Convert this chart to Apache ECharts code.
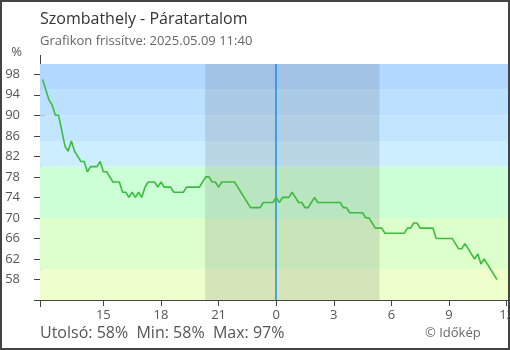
<!DOCTYPE html>
<html>
<head>
<meta charset="utf-8">
<script src="https://cdn.jsdelivr.net/npm/echarts@6/dist/echarts.min.js"></script>
<style>
  html, body { margin: 0; padding: 0; background: #fff; }
  #chart { width: 510px; height: 350px; }
</style>
</head>
<body>
<div id="chart"></div>
<script>
// Relative humidity in Szombathely, 10-minute readings
// from 2025-05-08 11:50 to 2025-05-09 11:30 (hours counted from 2025-05-08 00:00)
const startHour = 11 + 50 / 60;
const stepHours = 10 / 60;
const humidity = [
  97, 95, 93, 92, 90, 90, 87, 84, 83, 85,
  83, 82, 81, 81, 79, 80, 80, 80, 81, 79,
  79, 78, 77, 77, 77, 75, 75, 74, 75, 74,
  75, 74, 76, 77, 77, 77, 76, 77, 76, 76,
  76, 75, 75, 75, 75, 76, 76, 76, 76, 76,
  77, 78, 78, 77, 77, 76, 77, 77, 77, 77,
  77, 76, 75, 74, 73, 72, 72, 72, 72, 73,
  73, 73, 73, 74, 73, 74, 74, 74, 75, 74,
  73, 73, 72, 72, 73, 74, 73, 73, 73, 73,
  73, 73, 73, 73, 72, 72, 71, 71, 71, 71,
  71, 70, 70, 69, 68, 68, 68, 67, 67, 67,
  67, 67, 67, 67, 68, 68, 69, 69, 68, 68,
  68, 68, 68, 66, 66, 66, 66, 66, 66, 65,
  64, 64, 65, 64, 63, 62, 63, 61, 62, 61,
  60, 59, 58
];

// Axis ranges and ticks
const xRange = [11.7, 36.075];
const hourTicks = [15, 18, 21, 24, 27, 30, 33, 36];
const yRange = [54, 100];
const valueTicks = [58, 62, 66, 70, 74, 78, 82, 86, 90, 94, 98];

// Humidity band limits, night (sunset 20:18, sunrise 05:23) and midnight
const bandEdges = [54, 60, 70, 80, 85, 90, 95, 100];
const nightSpan = [20 + 18 / 60, 24 + 5 + 23 / 60];
const midnight = 24;

const bandColors = ['#eeffcc', '#ddffcc', '#ccffd6', '#cceeff', '#c2e6ff', '#bce0ff', '#b2d8ff'];
const FONT = 'Open Sans';
const AXIS_COLOR = '#444';
const TEXT_COLOR = '#555';

const points = humidity.map((v, i) => [startHour + i * stepHours, v]);
const lastVal = humidity[humidity.length - 1];
const minVal = Math.min(...humidity);
const maxVal = Math.max(...humidity);

const chart = echarts.init(document.getElementById('chart'), null, { renderer: 'canvas' });

function xAxisDef(inner) {
  return {
    type: 'value', position: 'bottom',
    min: xRange[0], max: xRange[1],
    axisLine: { show: !inner, lineStyle: { color: AXIS_COLOR, width: 1 } },
    axisTick: { show: true, inside: inner, length: 6, customValues: hourTicks, lineStyle: { color: AXIS_COLOR, width: 1 } },
    axisLabel: inner ? { show: false } : {
      customValues: hourTicks, margin: 9, color: TEXT_COLOR, fontSize: 13, fontFamily: FONT,
      formatter: v => String(Math.round(v) % 24)
    },
    splitLine: { show: false }
  };
}
function yAxisDef(inner) {
  return {
    type: 'value', position: 'left',
    min: yRange[0], max: yRange[1],
    name: inner ? '' : '%', nameLocation: 'end', nameGap: 5,
    nameTextStyle: { color: TEXT_COLOR, fontSize: 13, fontFamily: FONT, align: 'right', padding: [0, 18, 0, 0] },
    axisLine: { show: !inner, lineStyle: { color: AXIS_COLOR, width: 1 } },
    axisTick: { show: true, inside: inner, length: 6, customValues: valueTicks, lineStyle: { color: AXIS_COLOR, width: 1 } },
    axisLabel: inner ? { show: false } : {
      customValues: valueTicks, margin: 20, color: TEXT_COLOR, fontSize: 13, fontFamily: FONT
    },
    splitLine: { show: false }
  };
}

const bandAreas = [];
for (let k = 0; k < bandEdges.length - 1; k++) {
  bandAreas.push([{ yAxis: bandEdges[k], itemStyle: { color: bandColors[k] } }, { yAxis: bandEdges[k + 1] }]);
}

chart.setOption({
  animation: false,
  backgroundColor: '#fff',
  title: {
    left: 40, top: 11, padding: 0, itemGap: 8,
    text: 'Szombathely - Páratartalom',
    subtext: 'Grafikon frissítve: 2025.05.09 11:40',
    textStyle: { fontFamily: FONT, fontSize: 16, fontWeight: 'normal', color: '#333' },
    subtextStyle: { fontFamily: FONT, fontSize: 13, color: '#666' }
  },
  grid: { left: 40, top: 64, right: 2, bottom: 50, containLabel: false, outerBoundsMode: 'none' },
  xAxis: [xAxisDef(false), xAxisDef(true)],
  yAxis: [yAxisDef(false), yAxisDef(true)],
  series: [
    {
      name: 'bands', type: 'line', z: 1, silent: true,
      data: points, symbol: 'none', lineStyle: { opacity: 0 },
      markArea: { silent: true, data: bandAreas }
    },
    {
      name: 'night', type: 'line', z: 2, silent: true,
      data: points, symbol: 'none', lineStyle: { opacity: 0 },
      markArea: {
        silent: true,
        data: [[{ xAxis: nightSpan[0], itemStyle: { color: 'rgba(70,70,70,0.14)' } }, { xAxis: nightSpan[1] }]]
      },
      markLine: {
        silent: true, symbol: 'none', label: { show: false },
        lineStyle: { color: '#1c8fe3', width: 1.5, type: 'solid' },
        data: [{ xAxis: midnight }]
      }
    },
    {
      name: 'Páratartalom', type: 'line', z: 5,
      data: points, symbol: 'none',
      lineStyle: { color: '#3cbc3c', width: 1.6 }
    }
  ],
  graphic: [
    // axis line overhangs
    { type: 'line', silent: true, shape: { x1: 40.5, y1: 55, x2: 40.5, y2: 64 }, style: { stroke: AXIS_COLOR, lineWidth: 1 } },
    { type: 'line', silent: true, shape: { x1: 40.5, y1: 300, x2: 40.5, y2: 307 }, style: { stroke: AXIS_COLOR, lineWidth: 1 } },
    { type: 'line', silent: true, shape: { x1: 34, y1: 300.5, x2: 40, y2: 300.5 }, style: { stroke: AXIS_COLOR, lineWidth: 1 } },
    {
      type: 'text', left: 40, top: 325, silent: true,
      style: { text: `Utolsó: ${lastVal}%  Min: ${minVal}%  Max: ${maxVal}%`, fill: TEXT_COLOR, font: `16px "${FONT}"` }
    },
    {
      type: 'text', left: 425, top: 327, silent: true,
      style: { text: '© Időkép', fill: '#666', font: `13px "${FONT}"` }
    },
    {
      type: 'rect', silent: true, z: 100,
      shape: { x: 1, y: 1, width: 508, height: 348 },
      style: { fill: 'none', stroke: '#444', lineWidth: 2 }
    }
  ]
});
</script>
</body>
</html>
